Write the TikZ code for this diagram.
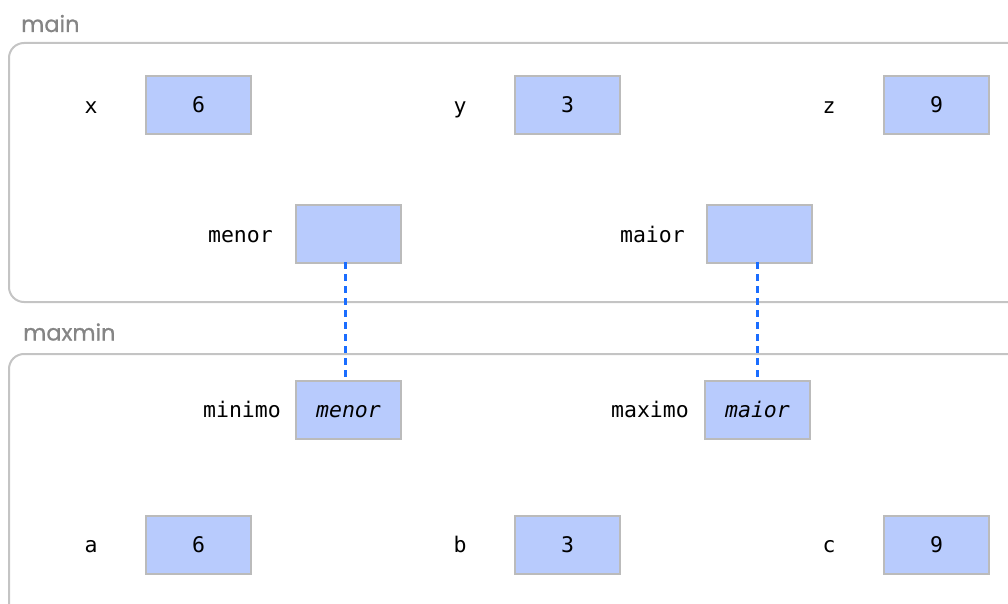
\documentclass[tikz,border=0pt]{standalone}
\usepackage{fontspec}
\setmonofont{DejaVu Sans Mono}
\newfontfamily\titlefont{Poppins}[FakeBold=0.8]
\definecolor{boxfill}{HTML}{B8CBFD}
\definecolor{boxline}{HTML}{BBBBBB}
\definecolor{frameline}{HTML}{C4C4C4}
\definecolor{titlegray}{HTML}{858585}
\definecolor{linkblue}{HTML}{1A6DFF}
\begin{document}
\begin{tikzpicture}[x=1pt,y=-1pt,
  codefont/.style={font=\ttfamily\fontsize{21.5}{24}\selectfont},
  valbox/.style={codefont,draw=boxline,fill=boxfill,line width=2pt,minimum width=105pt,minimum height=58pt,inner sep=0pt,text height=15.7pt,text depth=0pt},
  varlbl/.style={codefont,inner sep=0pt,text height=15.7pt,text depth=0pt},
  frame/.style={draw=frameline,line width=2pt,rounded corners=15pt},
  ftitle/.style={anchor=base west,inner sep=0pt,text=titlegray,font=\titlefont\fontsize{22.5}{24}\selectfont},
  link/.style={draw=linkblue,line width=3pt,dash pattern=on 7pt off 5pt}]
\useasboundingbox (0,0) rectangle (1008,604);
\begin{scope}
\clip (0,0) rectangle (1008,604);
\draw[frame] (9,43) rectangle (1030,302);
\draw[frame] (9,354) rectangle (1030,640);
\end{scope}
\node[ftitle] (tmain) at (21,32) {main};
\node[ftitle] (tmaxmin) at (23,340.5) {maxmin};
% main
\node[varlbl] (lx) at (91,106) {x};
\node[valbox] (bx) at (198.5,105) {6};
\node[varlbl] (ly) at (460,106) {y};
\node[valbox] (by) at (567.5,105) {3};
\node[varlbl] (lz) at (829,106) {z};
\node[valbox] (bz) at (936.5,105) {9};
\node[varlbl,anchor=east] (lmenor) at (273,234.6) {menor};
\node[valbox] (bmenor) at (348.5,234) {};
\node[varlbl,anchor=east] (lmaior) at (685,234.6) {maior};
\node[valbox] (bmaior) at (759.5,234) {};
% maxmin
\node[varlbl,anchor=east] (lminimo) at (281,409.6) {minimo};
\node[valbox] (bminimo) at (348.5,409.5) {\itshape menor};
\node[varlbl,anchor=east] (lmaximo) at (689,409.6) {maximo};
\node[valbox] (bmaximo) at (757.5,409.5) {\itshape maior};
\node[varlbl] (la) at (91,545) {a};
\node[valbox] (ba) at (198.5,545) {6};
\node[varlbl] (lb) at (460,545) {b};
\node[valbox] (bb) at (567.5,545) {3};
\node[varlbl] (lc) at (829,545) {c};
\node[valbox] (bc) at (936.5,545) {9};
% links
\coordinate (m1) at ([xshift=-3pt,yshift=2pt]bmenor.south);
\coordinate (m2) at ([xshift=-3pt,yshift=-2pt]bminimo.north);
\coordinate (M1) at ([xshift=-2.5pt,yshift=2pt]bmaior.south);
\coordinate (M2) at ([xshift=-0.5pt,yshift=-2pt]bmaximo.north);
\draw[link] (m1) -- (m2);
\draw[link] (M1) -- (M2);
\end{tikzpicture}
\end{document}
